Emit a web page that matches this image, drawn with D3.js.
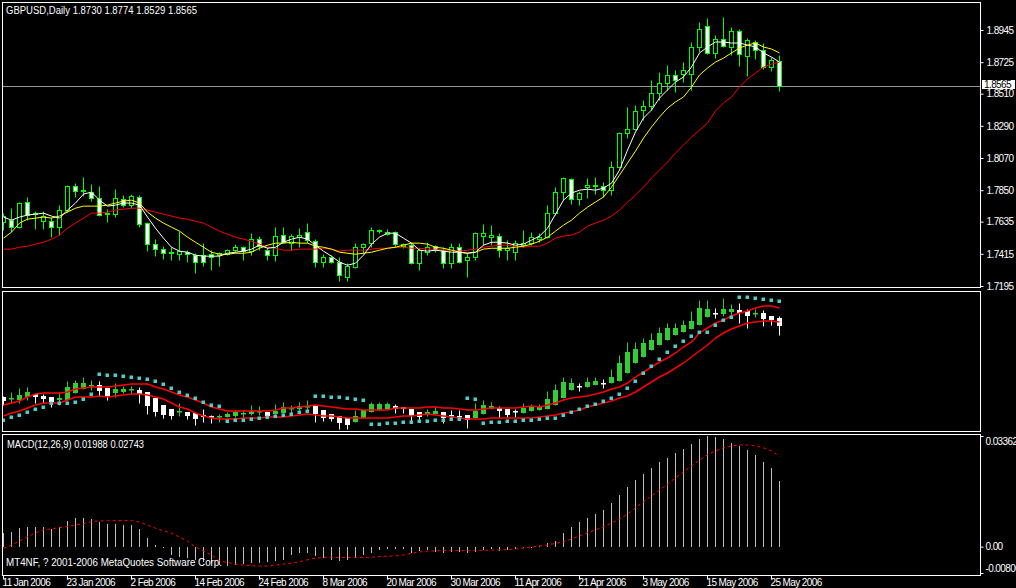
<!DOCTYPE html>
<html><head><meta charset="utf-8">
<script src="https://cdnjs.cloudflare.com/ajax/libs/d3/7.8.5/d3.min.js"></script>
<style>html,body{margin:0;padding:0;background:#000;overflow:hidden}</style>
</head><body>
<script>
// ---------- DATA ----------
const dateLabels = ["11 Jan 2006","23 Jan 2006","2 Feb 2006","14 Feb 2006","24 Feb 2006","8 Mar 2006","20 Mar 2006","30 Mar 2006","11 Apr 2006","21 Apr 2006","3 May 2006","15 May 2006","25 May 2006"];
const dateIdx = [0,8,16,24,32,40,48,56,64,72,80,88,96];
const priceTicks = [1.8945,1.8725,1.8510,1.8290,1.8070,1.7850,1.7635,1.7415,1.7195];
const priceLabels = ["1.8945","1.8725","1.8510","1.8290","1.8070","1.7850","1.7635","1.7415","1.7195"];
const macdTicks = [0.03362, 0, -0.0080];
const macdLabels = ["0.03362","0.00","-0.00800"];
const lastPrice = 1.8565;

const open = [1.7632,1.7645,1.7597,1.7768,1.7686,1.7638,1.7638,1.7597,1.7714,1.7878,
1.7844,1.7837,1.7796,1.7686,1.7686,1.7789,1.7748,1.7803,1.7625,1.7481,
1.7447,1.7419,1.7412,1.7426,1.7406,1.7406,1.7412,1.7406,1.7412,1.7440,
1.7460,1.7433,1.7515,1.7440,1.7406,1.7543,1.7488,1.7529,1.7563,1.7501,
1.7358,1.7392,1.7358,1.7255,1.7323,1.7460,1.7488,1.7570,1.7549,1.7563,
1.7467,1.7474,1.7351,1.7426,1.7467,1.7440,1.7351,1.7460,1.7371,1.7392,
1.7536,1.7529,1.7536,1.7440,1.7426,1.7474,1.7488,1.7515,1.7529,1.7693,
1.7837,1.7925,1.7789,1.7871,1.7878,1.7878,1.7850,1.8008,1.8240,1.8268,
1.8398,1.8425,1.8514,1.8582,1.8637,1.8644,1.8644,1.8829,1.8972,1.8788,
1.8883,1.8829,1.8938,1.8767,1.8863,1.8808,1.8692,1.8730];
const high = [1.7693,1.7727,1.7768,1.7803,1.7707,1.7707,1.7666,1.7748,1.7885,1.7898,
1.7939,1.7891,1.7878,1.7720,1.7857,1.7816,1.7823,1.7816,1.7632,1.7515,
1.7467,1.7460,1.7570,1.7440,1.7419,1.7488,1.7440,1.7426,1.7447,1.7481,
1.7467,1.7556,1.7536,1.7460,1.7597,1.7597,1.7549,1.7590,1.7625,1.7515,
1.7412,1.7406,1.7392,1.7351,1.7488,1.7488,1.7597,1.7584,1.7584,1.7570,
1.7488,1.7488,1.7453,1.7494,1.7474,1.7460,1.7488,1.7488,1.7419,1.7563,
1.7618,1.7611,1.7556,1.7508,1.7508,1.7577,1.7563,1.7556,1.7748,1.7871,
1.7939,1.7932,1.7844,1.7932,1.7939,1.7905,1.8049,1.8247,1.8418,1.8432,
1.8466,1.8603,1.8658,1.8706,1.8671,1.8726,1.8863,1.8999,1.9027,1.8911,
1.9034,1.8966,1.8952,1.8890,1.8877,1.8856,1.8760,1.8774];
const low = [1.7577,1.7563,1.7590,1.7645,1.7584,1.7584,1.7529,1.7543,1.7700,1.7803,
1.7809,1.7775,1.7673,1.7632,1.7666,1.7734,1.7727,1.7597,1.7433,1.7399,
1.7378,1.7371,1.7371,1.7358,1.7282,1.7330,1.7303,1.7330,1.7406,1.7426,
1.7371,1.7406,1.7440,1.7371,1.7364,1.7488,1.7440,1.7460,1.7488,1.7323,
1.7323,1.7351,1.7228,1.7228,1.7317,1.7419,1.7460,1.7556,1.7543,1.7460,
1.7453,1.7344,1.7303,1.7406,1.7426,1.7317,1.7317,1.7351,1.7255,1.7371,
1.7474,1.7474,1.7392,1.7371,1.7371,1.7460,1.7474,1.7494,1.7522,1.7679,
1.7782,1.7755,1.7748,1.7796,1.7823,1.7803,1.7816,1.8001,1.8206,1.8261,
1.8329,1.8398,1.8466,1.8535,1.8521,1.8589,1.8535,1.8795,1.8781,1.8753,
1.8829,1.8774,1.8699,1.8630,1.8747,1.8678,1.8665,1.8529];
const close = [1.7673,1.7597,1.7761,1.7679,1.7693,1.7673,1.7597,1.7714,1.7878,1.7844,
1.7850,1.7796,1.7679,1.7693,1.7796,1.7748,1.7809,1.7618,1.7481,1.7447,
1.7419,1.7426,1.7433,1.7412,1.7358,1.7358,1.7392,1.7419,1.7440,1.7460,
1.7433,1.7515,1.7467,1.7406,1.7536,1.7494,1.7536,1.7543,1.7508,1.7358,
1.7392,1.7358,1.7269,1.7330,1.7460,1.7481,1.7577,1.7577,1.7563,1.7481,
1.7481,1.7351,1.7440,1.7460,1.7440,1.7351,1.7460,1.7358,1.7392,1.7556,
1.7556,1.7543,1.7440,1.7453,1.7488,1.7488,1.7529,1.7529,1.7693,1.7837,
1.7932,1.7789,1.7830,1.7885,1.7885,1.7850,1.8008,1.8240,1.8268,1.8391,
1.8425,1.8514,1.8582,1.8637,1.8603,1.8671,1.8829,1.8952,1.8788,1.8883,
1.8836,1.8938,1.8781,1.8877,1.8808,1.8692,1.8740,1.8565];

const maFast = [1.7666,1.7645,1.7666,1.7680,1.7686,1.7693,1.7673,1.7659,1.7714,1.7762,
1.7823,1.7837,1.7782,1.7741,1.7748,1.7762,1.7762,1.7748,1.7666,1.7590,
1.7522,1.7460,1.7433,1.7426,1.7406,1.7399,1.7399,1.7399,1.7419,1.7426,
1.7433,1.7447,1.7474,1.7453,1.7460,1.7494,1.7515,1.7529,1.7515,1.7474,
1.7433,1.7399,1.7358,1.7337,1.7351,1.7406,1.7481,1.7529,1.7556,1.7556,
1.7522,1.7488,1.7440,1.7433,1.7440,1.7433,1.7426,1.7426,1.7419,1.7426,
1.7474,1.7494,1.7494,1.7488,1.7474,1.7481,1.7508,1.7536,1.7590,1.7686,
1.7782,1.7830,1.7850,1.7857,1.7850,1.7864,1.7898,1.7987,1.8124,1.8248,
1.8343,1.8398,1.8480,1.8535,1.8589,1.8624,1.8692,1.8788,1.8829,1.8863,
1.8863,1.8856,1.8856,1.8842,1.8829,1.8788,1.8760,1.8726];
const maMid = [1.7522,1.7563,1.7625,1.7652,1.7659,1.7666,1.7659,1.7673,1.7700,1.7727,
1.7741,1.7741,1.7741,1.7748,1.7762,1.7775,1.7782,1.7762,1.7700,1.7659,
1.7625,1.7597,1.7570,1.7529,1.7494,1.7460,1.7426,1.7412,1.7412,1.7419,
1.7419,1.7426,1.7453,1.7474,1.7488,1.7488,1.7494,1.7488,1.7488,1.7467,
1.7460,1.7447,1.7426,1.7419,1.7412,1.7419,1.7426,1.7440,1.7453,1.7460,
1.7474,1.7488,1.7488,1.7481,1.7460,1.7453,1.7440,1.7426,1.7419,1.7426,
1.7447,1.7453,1.7453,1.7453,1.7460,1.7467,1.7481,1.7501,1.7529,1.7570,
1.7611,1.7645,1.7693,1.7734,1.7769,1.7803,1.7871,1.7953,1.8035,1.8117,
1.8206,1.8282,1.8350,1.8411,1.8453,1.8487,1.8555,1.8637,1.8685,1.8726,
1.8753,1.8788,1.8822,1.8842,1.8856,1.8829,1.8815,1.8788];
const maSlow = [1.7447,1.7447,1.7460,1.7467,1.7481,1.7494,1.7515,1.7543,1.7590,1.7625,
1.7659,1.7693,1.7693,1.7700,1.7714,1.7720,1.7727,1.7727,1.7714,1.7700,
1.7686,1.7673,1.7659,1.7652,1.7638,1.7625,1.7597,1.7570,1.7549,1.7529,
1.7515,1.7501,1.7481,1.7460,1.7453,1.7440,1.7440,1.7447,1.7447,1.7447,
1.7453,1.7447,1.7433,1.7440,1.7440,1.7440,1.7447,1.7453,1.7453,1.7460,
1.7460,1.7453,1.7453,1.7447,1.7447,1.7440,1.7440,1.7433,1.7440,1.7447,
1.7460,1.7467,1.7474,1.7474,1.7467,1.7460,1.7467,1.7467,1.7488,1.7522,
1.7536,1.7543,1.7563,1.7604,1.7625,1.7645,1.7673,1.7714,1.7768,1.7816,
1.7871,1.7933,1.7987,1.8042,1.8104,1.8158,1.8213,1.8261,1.8309,1.8391,
1.8446,1.8487,1.8555,1.8610,1.8651,1.8692,1.8712,1.8726];

const haOpen = [1.7739,1.7713,1.7700,1.7739,1.7778,1.7752,1.7739,1.7700,1.7700,1.7791,
1.7843,1.7882,1.7895,1.7856,1.7791,1.7804,1.7830,1.7830,1.7804,1.7726,
1.7635,1.7583,1.7544,1.7544,1.7531,1.7505,1.7492,1.7479,1.7479,1.7492,
1.7518,1.7518,1.7544,1.7544,1.7518,1.7531,1.7583,1.7583,1.7609,1.7622,
1.7570,1.7518,1.7492,1.7466,1.7414,1.7466,1.7544,1.7570,1.7583,1.7622,
1.7609,1.7583,1.7544,1.7518,1.7518,1.7544,1.7505,1.7492,1.7505,1.7466,
1.7518,1.7583,1.7596,1.7583,1.7557,1.7531,1.7557,1.7570,1.7583,1.7635,
1.7726,1.7830,1.7882,1.7869,1.7895,1.7921,1.7921,1.7947,1.8051,1.8181,
1.8259,1.8350,1.8415,1.8480,1.8545,1.8584,1.8623,1.8675,1.8779,1.8831,
1.8818,1.8844,1.8870,1.8857,1.8831,1.8831,1.8792,1.8766];
const haHigh = [1.7752,1.7804,1.7856,1.7869,1.7778,1.7778,1.7739,1.7804,1.7947,1.7960,
1.7999,1.7960,1.7947,1.7856,1.7921,1.7882,1.7882,1.7869,1.7804,1.7726,
1.7635,1.7583,1.7661,1.7544,1.7531,1.7583,1.7505,1.7518,1.7544,1.7570,
1.7557,1.7635,1.7622,1.7544,1.7648,1.7674,1.7635,1.7674,1.7700,1.7622,
1.7570,1.7518,1.7492,1.7466,1.7570,1.7583,1.7674,1.7674,1.7674,1.7648,
1.7609,1.7583,1.7544,1.7583,1.7622,1.7544,1.7570,1.7570,1.7505,1.7661,
1.7700,1.7674,1.7622,1.7583,1.7583,1.7661,1.7648,1.7648,1.7817,1.7908,
1.7999,1.7986,1.7921,1.7999,1.7999,1.7973,1.8103,1.8285,1.8454,1.8454,
1.8506,1.8571,1.8649,1.8701,1.8701,1.8740,1.8857,1.9000,1.9000,1.8896,
1.9026,1.8948,1.8961,1.8883,1.8883,1.8870,1.8792,1.8792];
const haLow = [1.7635,1.7661,1.7661,1.7700,1.7661,1.7661,1.7609,1.7635,1.7700,1.7791,
1.7843,1.7830,1.7752,1.7700,1.7739,1.7791,1.7778,1.7661,1.7518,1.7492,
1.7466,1.7453,1.7492,1.7453,1.7375,1.7414,1.7401,1.7414,1.7479,1.7479,
1.7466,1.7505,1.7505,1.7479,1.7518,1.7531,1.7531,1.7570,1.7570,1.7414,
1.7427,1.7427,1.7323,1.7323,1.7414,1.7466,1.7544,1.7570,1.7583,1.7531,
1.7531,1.7414,1.7440,1.7492,1.7518,1.7401,1.7440,1.7440,1.7336,1.7466,
1.7518,1.7583,1.7479,1.7479,1.7479,1.7531,1.7557,1.7570,1.7583,1.7635,
1.7726,1.7830,1.7817,1.7869,1.7895,1.7856,1.7921,1.7947,1.8051,1.8181,
1.8259,1.8350,1.8415,1.8480,1.8545,1.8584,1.8623,1.8675,1.8779,1.8766,
1.8792,1.8805,1.8701,1.8636,1.8779,1.8662,1.8675,1.8545];
const haClose = [1.7687,1.7720,1.7765,1.7804,1.7739,1.7713,1.7674,1.7726,1.7869,1.7921,
1.7921,1.7895,1.7817,1.7752,1.7843,1.7843,1.7843,1.7778,1.7622,1.7544,
1.7505,1.7492,1.7557,1.7492,1.7453,1.7479,1.7479,1.7492,1.7518,1.7544,
1.7531,1.7557,1.7557,1.7492,1.7557,1.7609,1.7596,1.7622,1.7622,1.7518,
1.7466,1.7453,1.7401,1.7375,1.7492,1.7570,1.7648,1.7648,1.7648,1.7583,
1.7583,1.7492,1.7479,1.7544,1.7557,1.7466,1.7500,1.7487,1.7440,1.7557,
1.7635,1.7622,1.7557,1.7505,1.7552,1.7596,1.7622,1.7609,1.7713,1.7830,
1.7934,1.7921,1.7869,1.7934,1.7947,1.7915,1.7999,1.8181,1.8324,1.8363,
1.8441,1.8480,1.8571,1.8636,1.8636,1.8675,1.8727,1.8896,1.8883,1.8825,
1.8883,1.8883,1.8831,1.8792,1.8837,1.8753,1.8740,1.8662];

const bandUp = [1.7635,1.7661,1.7687,1.7739,1.7778,1.7791,1.7791,1.7791,1.7804,1.7843,
1.7856,1.7869,1.7869,1.7869,1.7882,1.7895,1.7908,1.7908,1.7908,1.7869,
1.7843,1.7804,1.7765,1.7739,1.7700,1.7661,1.7609,1.7583,1.7557,1.7557,
1.7557,1.7557,1.7557,1.7557,1.7570,1.7596,1.7596,1.7609,1.7622,1.7635,
1.7622,1.7609,1.7596,1.7583,1.7583,1.7570,1.7570,1.7570,1.7570,1.7596,
1.7596,1.7596,1.7596,1.7609,1.7609,1.7596,1.7596,1.7583,1.7570,1.7570,
1.7583,1.7596,1.7596,1.7596,1.7596,1.7609,1.7622,1.7609,1.7635,1.7661,
1.7700,1.7726,1.7739,1.7752,1.7778,1.7804,1.7843,1.7869,1.7921,1.7999,
1.8064,1.8129,1.8194,1.8246,1.8311,1.8389,1.8454,1.8571,1.8636,1.8701,
1.8740,1.8792,1.8831,1.8857,1.8896,1.8922,1.8922,1.8896];
const bandLo = [1.7492,1.7531,1.7557,1.7596,1.7635,1.7661,1.7661,1.7661,1.7700,1.7739,
1.7739,1.7739,1.7752,1.7739,1.7752,1.7765,1.7778,1.7778,1.7765,1.7739,
1.7713,1.7661,1.7609,1.7583,1.7531,1.7492,1.7466,1.7453,1.7453,1.7453,
1.7466,1.7466,1.7466,1.7479,1.7479,1.7479,1.7492,1.7505,1.7518,1.7505,
1.7492,1.7492,1.7479,1.7466,1.7466,1.7466,1.7466,1.7466,1.7466,1.7479,
1.7492,1.7492,1.7505,1.7518,1.7505,1.7492,1.7479,1.7466,1.7453,1.7453,
1.7453,1.7466,1.7466,1.7466,1.7466,1.7466,1.7466,1.7479,1.7492,1.7505,
1.7531,1.7544,1.7570,1.7609,1.7635,1.7661,1.7687,1.7726,1.7752,1.7804,
1.7869,1.7934,1.7999,1.8051,1.8116,1.8181,1.8259,1.8337,1.8415,1.8506,
1.8571,1.8623,1.8662,1.8701,1.8714,1.8727,1.8727,1.8714];
const trendDots = [1.7440,1.7479,1.7505,1.7544,1.7583,1.7609,1.7661,1.7661,1.7661,1.7674,
1.7713,1.7778,1.8038,1.8025,1.8025,1.8012,1.7999,1.7986,1.7973,1.7947,
1.7908,1.7856,1.7804,1.7765,1.7726,1.7674,1.7635,1.7622,1.7427,1.7440,
1.7440,1.7453,1.7466,1.7479,1.7492,1.7505,1.7518,1.7544,1.7557,1.7752,
1.7752,1.7739,1.7739,1.7726,1.7713,1.7700,1.7388,1.7388,1.7401,1.7401,
1.7414,1.7414,1.7427,1.7427,1.7440,1.7440,1.7453,1.7453,1.7726,1.7713,
1.7401,1.7414,1.7414,1.7427,1.7427,1.7440,1.7440,1.7453,1.7466,1.7466,
1.7505,1.7544,1.7583,1.7622,1.7648,1.7687,1.7726,1.7778,1.7856,1.7947,
1.8051,1.8142,1.8233,1.8324,1.8402,1.8467,1.8532,1.8584,1.8584,1.8675,
1.8740,1.8779,1.9039,1.9039,1.9026,1.9013,1.9000,1.8987];

const macdMain = [0.0041,0.0046,0.0056,0.0061,0.0061,0.0061,0.0053,0.0059,0.0079,0.0086,
0.0088,0.0083,0.0076,0.0069,0.0069,0.0066,0.0066,0.0053,0.0026,0.0005,
-0.0005,-0.0025,-0.0030,-0.0035,-0.0040,-0.0046,-0.0050,-0.0056,-0.0059,-0.0056,
-0.0053,-0.0050,-0.0049,-0.0046,-0.0043,-0.0040,-0.0025,-0.0020,-0.0018,-0.0028,
-0.0035,-0.0040,-0.0043,-0.0040,-0.0035,-0.0025,-0.0020,-0.0010,-0.0008,-0.0008,
-0.0008,-0.0018,-0.0012,-0.0010,-0.0015,-0.0018,-0.0015,-0.0015,-0.0018,-0.0015,
-0.0010,-0.0008,-0.0012,-0.0010,-0.0008,-0.0005,-0.0003,0.0002,0.0010,0.0017,
0.0042,0.0060,0.0075,0.0087,0.0099,0.0111,0.0133,0.0157,0.0181,0.0203,
0.0221,0.0239,0.0257,0.0269,0.0285,0.0297,0.0312,0.0326,0.0336,0.0332,
0.0326,0.0316,0.0306,0.0294,0.0279,0.0257,0.0239,0.0199];
const macdSignal = [-0.0005,0.0005,0.0017,0.0030,0.0042,0.0051,0.0054,0.0058,0.0061,0.0066,
0.0070,0.0076,0.0078,0.0079,0.0079,0.0079,0.0079,0.0075,0.0066,0.0056,
0.0048,0.0041,0.0029,0.0017,-0.0001,-0.0013,-0.0025,-0.0043,-0.0048,-0.0053,
-0.0056,-0.0058,-0.0059,-0.0059,-0.0056,-0.0053,-0.0050,-0.0046,-0.0040,-0.0035,
-0.0033,-0.0032,-0.0033,-0.0033,-0.0033,-0.0033,-0.0032,-0.0030,-0.0029,-0.0028,
-0.0025,-0.0020,-0.0016,-0.0014,-0.0013,-0.0012,-0.0012,-0.0012,-0.0012,-0.0012,
-0.0011,-0.0010,-0.0010,-0.0009,-0.0007,-0.0004,-0.0001,0.0002,0.0005,0.0010,
0.0015,0.0023,0.0033,0.0042,0.0051,0.0060,0.0072,0.0084,0.0099,0.0118,
0.0136,0.0154,0.0172,0.0190,0.0209,0.0227,0.0245,0.0263,0.0279,0.0291,
0.0300,0.0306,0.0309,0.0309,0.0306,0.0300,0.0291,0.0274];

// ---------- LAYOUT ----------
const W = 1016, H = 588;
const FONT = "'Liberation Sans', Arial, sans-serif";
const svg = d3.select("body").append("svg")
  .attr("width", W).attr("height", H)
  .style("display", "block").style("background", "#000");
svg.append("rect").attr("width", W).attr("height", H).attr("fill", "#000");

const n = open.length;
const idx = d3.range(n);
const x = d3.scaleLinear().domain([0, n - 1]).range([3, 779]);
const yMain = d3.scaleLinear().domain([1.7195, 1.8945]).range([286, 30]);
const yMid = d3.scaleLinear().domain([1.7297, 1.913]).range([431, 290]);
const yMacd = d3.scaleLinear().domain([-0.0080, 0.03362]).range([573, 436]);

const panels = {
  main: {y0: 2, y1: 287},
  mid: {y0: 291, y1: 431},
  macd: {y0: 434, y1: 575}
};
const defs = svg.append("defs");
Object.entries(panels).forEach(([k, p]) => {
  defs.append("clipPath").attr("id", "clip-" + k).append("rect")
    .attr("x", 3).attr("y", p.y0 + 1).attr("width", 977).attr("height", p.y1 - p.y0 - 1);
});

const px = i => Math.round(x(i)) + 0.5;
const snap = v => Math.round(v) + 0.5;

// ---------- MAIN PANEL ----------
const gMain = svg.append("g").attr("clip-path", "url(#clip-main)");
gMain.append("line").attr("x1", 3).attr("x2", 980)
  .attr("y1", snap(yMain(lastPrice))).attr("y2", snap(yMain(lastPrice)))
  .attr("stroke", "#9a9a9a").attr("stroke-width", 1);

const candles = gMain.append("g");
idx.forEach(i => {
  const cx = px(i);
  const yh = snap(yMain(high[i])), yl = snap(yMain(low[i]));
  const yo = snap(yMain(open[i])), yc = snap(yMain(close[i]));
  candles.append("line").attr("x1", cx).attr("x2", cx).attr("y1", yh).attr("y2", yl)
    .attr("stroke", "#00ff00").attr("stroke-width", 1);
  const top = Math.min(yo, yc), bot = Math.max(yo, yc);
  if (bot - top < 1) {
    candles.append("line").attr("x1", cx - 2.5).attr("x2", cx + 2.5).attr("y1", top).attr("y2", top)
      .attr("stroke", "#00ff00").attr("stroke-width", 1);
  } else {
    candles.append("rect").attr("x", cx - 2).attr("y", top).attr("width", 4).attr("height", bot - top)
      .attr("fill", close[i] >= open[i] ? "#000" : "#fff")
      .attr("stroke", "#00ff00").attr("stroke-width", 1);
  }
});
const lineMain = d3.line().x((d, i) => x(i) + 0.5).y(d => yMain(d));
[[maSlow, "#ff0000"], [maMid, "#ffff00"], [maFast, "#ffffff"]].forEach(([arr, c]) => {
  gMain.append("path").attr("d", lineMain(arr)).attr("fill", "none")
    .attr("stroke", c).attr("stroke-width", 1);
});

// ---------- MIDDLE PANEL ----------
const gMid = svg.append("g").attr("clip-path", "url(#clip-mid)");
idx.forEach(i => {
  const cx = px(i);
  const up = haClose[i] >= haOpen[i];
  const col = up ? "#32cd32" : "#ffffff";
  gMid.append("line").attr("x1", cx).attr("x2", cx)
    .attr("y1", snap(yMid(haHigh[i]))).attr("y2", snap(yMid(haLow[i])))
    .attr("stroke", col).attr("stroke-width", 1);
  const yo = Math.round(yMid(haOpen[i])), yc = Math.round(yMid(haClose[i]));
  const top = Math.min(yo, yc), bot = Math.max(yo, yc);
  gMid.append("rect").attr("x", cx - 2.5).attr("y", top).attr("width", 5)
    .attr("height", Math.max(1.5, bot - top)).attr("fill", col);
});
const lineMid = d3.line().x((d, i) => x(i) + 0.5).y(d => yMid(d));
[bandUp, bandLo].forEach(arr => {
  gMid.append("path").attr("d", lineMid(arr)).attr("fill", "none")
    .attr("stroke", "#ff0000").attr("stroke-width", 1.5);
});
gMid.selectAll("rect.dot").data(trendDots).join("rect").attr("class", "dot")
  .attr("x", (d, i) => px(i) - 2).attr("y", d => Math.round(yMid(d)) - 1.5)
  .attr("width", 3.5).attr("height", 3.5).attr("fill", "#48d1cc");

// ---------- MACD PANEL ----------
const gMacd = svg.append("g").attr("clip-path", "url(#clip-macd)");
gMacd.selectAll("line.h").data(macdMain).join("line").attr("class", "h")
  .attr("x1", (d, i) => px(i)).attr("x2", (d, i) => px(i))
  .attr("y1", Math.round(yMacd(0))).attr("y2", d => Math.round(yMacd(d)))
  .attr("stroke", "#c0c0c0").attr("stroke-width", 1);
gMacd.append("path")
  .attr("d", d3.line().x((d, i) => x(i) + 0.5).y(d => yMacd(d))(macdSignal))
  .attr("fill", "none").attr("stroke", "#ff0000").attr("stroke-width", 1)
  .attr("stroke-dasharray", "3,3");

// ---------- FRAMES ----------
Object.values(panels).forEach(p => {
  svg.append("rect").attr("x", 2.5).attr("y", p.y0 + 0.5).attr("width", 978)
    .attr("height", p.y1 - p.y0).attr("fill", "none").attr("stroke", "#fff").attr("stroke-width", 1);
});

// ---------- AXES ----------
function styleAxis(g) {
  g.select(".domain").remove();
  g.selectAll("line").attr("stroke", "#fff");
  g.selectAll("text").attr("fill", "#fff").style("font-family", FONT)
    .style("font-size", "10px").style("letter-spacing", "-0.6px");
}
const axPrice = svg.append("g").attr("transform", "translate(980.5,0)")
  .call(d3.axisRight(yMain).tickValues(priceTicks).tickFormat((d, i) => priceLabels[i]).tickSize(3).tickPadding(3));
styleAxis(axPrice);

const axMacd = svg.append("g").attr("transform", "translate(980.5,0)")
  .call(d3.axisRight(yMacd).tickValues(macdTicks).tickFormat((d, i) => macdLabels[i]).tickSize(3).tickPadding(2));
styleAxis(axMacd);
axMacd.selectAll(".tick").each(function (d, i) {
  const t = d3.select(this).select("text");
  if (i === 0) t.attr("dy", "0.85em");
  if (i === 2) t.attr("dy", "-0.2em");
});

const axDate = svg.append("g").attr("transform", "translate(0,575)")
  .call(d3.axisBottom(x).tickValues(dateIdx).tickFormat((d, i) => dateLabels[i]).tickSize(4).tickPadding(1));
styleAxis(axDate);
axDate.selectAll(".tick").attr("transform", d => `translate(${px(d)},0)`);
axDate.selectAll("text").attr("text-anchor", "start").attr("x", -1).attr("y", 5).attr("dy", "0.62em");

// bid label
const yb = Math.round(yMain(lastPrice));
svg.append("rect").attr("x", 982).attr("y", yb - 6).attr("width", 33).attr("height", 9).attr("fill", "#fff");
svg.append("text").attr("x", 984).attr("y", yb + 2).text(lastPrice.toFixed(4))
  .attr("fill", "#000").style("font-family", FONT).style("font-size", "10px").style("letter-spacing", "-0.6px");

// ---------- TEXT ----------
function label(txt, xx, yy, len) {
  svg.append("text").attr("x", xx).attr("y", yy).text(txt).attr("fill", "#fff")
    .style("font-family", FONT).style("font-size", "10px")
    .attr("textLength", len).attr("lengthAdjust", "spacingAndGlyphs");
}
label("GBPUSD,Daily  1.8730 1.8774 1.8529 1.8565", 6, 14, 191);
label("MACD(12,26,9) 0.01988 0.02743", 7, 448, 137);
label("MT4NF, ? 2001-2006 MetaQuotes Software Corp.", 6, 566, 216);
</script>
</body></html>
